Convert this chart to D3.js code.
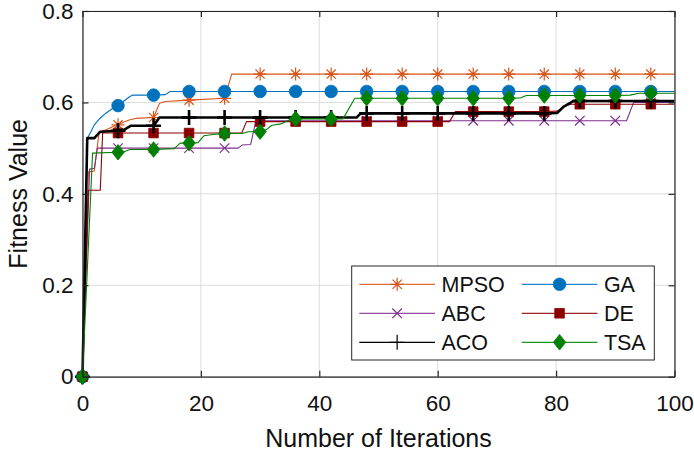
<!DOCTYPE html>
<html><head><meta charset="utf-8">
<script src="https://cdn.jsdelivr.net/npm/d3@7"></script>
<style>
html,body{margin:0;padding:0;background:#fff;}
svg{display:block;font-family:"Liberation Sans",Arial,sans-serif;}
</style></head>
<body><svg id="c" width="694" height="456"></svg>
<script>
// ---- data (iteration, fitness) vertices ----
const seriesNames = ["MPSO","GA","ABC","DE","ACO","TSA"];
const xTicks = [0,20,40,60,80,100];
const yTicks = [0,0.2,0.4,0.6,0.8];
const yTickLabels = ["0","0.2","0.4","0.6","0.8"];

const MPSO = [[0,0],[1,0.448],[2,0.45],[2.8,0.535],[4,0.54],[5,0.546],[6,0.551],[7,0.557],[8,0.562],[9,0.565],[12,0.567],[13,0.598],[14,0.602],[18,0.605],[24,0.609],[25.2,0.662],[30,0.662],[36,0.662],[42,0.662],[48,0.662],[54,0.662],[60,0.662],[66,0.662],[72,0.662],[78,0.662],[84,0.662],[90,0.662],[96,0.662],[100,0.662]];
const GA = [[0,0],[0.8,0.521],[1.5,0.538],[2,0.551],[3,0.566],[4,0.577],[5,0.586],[6,0.593],[7,0.603],[8,0.613],[8.5,0.616],[12,0.616],[14,0.617],[14.8,0.624],[18,0.624],[24,0.624],[30,0.624],[36,0.624],[42,0.624],[48,0.624],[54,0.624],[60,0.624],[66,0.624],[72,0.624],[78,0.624],[84,0.624],[90,0.624],[96,0.624],[100,0.624]];
const ABC = [[0,0],[1.2,0.454],[2,0.456],[2.5,0.5],[6,0.5],[12,0.5],[18,0.5],[24,0.5],[26.3,0.5],[27,0.507],[28.4,0.508],[29.3,0.56],[30,0.56],[36,0.56],[42,0.56],[48,0.56],[54,0.56],[60,0.56],[66,0.56],[72,0.56],[78,0.56],[84,0.56],[90,0.56],[91.9,0.56],[93.1,0.6],[96,0.6],[100,0.6]];
const DE = [[0,0],[1,0.408],[3,0.408],[3.4,0.533],[6,0.533],[12,0.533],[18,0.533],[24,0.533],[26.9,0.533],[27.7,0.558],[30,0.558],[36,0.558],[42,0.558],[48,0.558],[54,0.558],[60,0.558],[62,0.558],[63,0.58],[66,0.58],[72,0.58],[78,0.58],[80.2,0.581],[81.5,0.592],[82.5,0.596],[84,0.596],[90,0.596],[96,0.596],[100,0.596]];
const ACO = [[0,0],[0.8,0.522],[2,0.522],[3,0.536],[6,0.538],[7,0.54],[8.2,0.549],[12,0.549],[13,0.567],[18,0.567],[24,0.567],[30,0.567],[36,0.567],[42,0.567],[46.3,0.567],[47,0.576],[48,0.576],[54,0.576],[60,0.576],[66,0.576],[72,0.576],[78,0.576],[80.2,0.577],[81.3,0.591],[82.9,0.603],[84,0.603],[90,0.603],[96,0.603],[100,0.603]];
const TSA = [[0,0],[1.7,0.489],[6,0.491],[7,0.492],[8,0.497],[12,0.497],[15.5,0.499],[16.5,0.511],[18,0.511],[19.5,0.512],[20.5,0.527],[22,0.53],[24,0.532],[27,0.532],[28,0.536],[30,0.536],[31,0.54],[32,0.55],[33.5,0.553],[35,0.562],[36,0.564],[42,0.564],[44,0.564],[46,0.609],[48,0.609],[54,0.609],[60,0.609],[66,0.609],[72,0.609],[74,0.61],[75,0.615],[78,0.615],[84,0.615],[90,0.615],[92.5,0.616],[94,0.62],[96,0.62],[100,0.62]];

const seriesData = [MPSO, GA, ABC, DE, ACO, TSA];
const colors = ["#D95319","#0072BD","#7E2F8E","#8B0000","#000000","#008000"];
const markers = ["asterisk","circle","x","square","plus","diamond"];
const lineWidths = [1.1,1.1,1.1,1.1,2.6,1.1];

// ---- layout ----
const L = 82.5, R = 674.5, T = 11, B = 376.7;
const svg = d3.select("#c");
const x = d3.scaleLinear().domain([0,100]).range([L,R]);
const y = d3.scaleLinear().domain([0,0.8]).range([B,T]);
const axisColor = "#262626";
const FONT = '"Liberation Sans",Arial,sans-serif';

// grid
const grid = svg.append("g");
grid.selectAll("line.gx").data(xTicks).join("line")
  .attr("x1",d=>x(d)).attr("x2",d=>x(d)).attr("y1",T).attr("y2",B)
  .attr("stroke","#dcdcdc").attr("stroke-width",1);
grid.selectAll("line.gy").data(yTicks).join("line")
  .attr("x1",L).attr("x2",R).attr("y1",d=>y(d)).attr("y2",d=>y(d))
  .attr("stroke","#dcdcdc").attr("stroke-width",1);

// markers
function markerPath(type, cx, cy){
  switch(type){
    case "asterisk": { const a=6.5, b=4.6;
      return `M${cx-a},${cy}L${cx+a},${cy}M${cx},${cy-a}L${cx},${cy+a}M${cx-b},${cy-b}L${cx+b},${cy+b}M${cx-b},${cy+b}L${cx+b},${cy-b}`; }
    case "x": { const b=4.8;
      return `M${cx-b},${cy-b}L${cx+b},${cy+b}M${cx-b},${cy+b}L${cx+b},${cy-b}`; }
    case "plus": { const a=7.5;
      return `M${cx-a},${cy}L${cx+a},${cy}M${cx},${cy-a}L${cx},${cy+a}`; }
    case "square": { const s=4.8;
      return `M${cx-s},${cy-s}L${cx+s},${cy-s}L${cx+s},${cy+s}L${cx-s},${cy+s}Z`; }
    case "diamond": { const w=6.2, h=7.8;
      return `M${cx},${cy-h}L${cx+w},${cy}L${cx},${cy+h}L${cx-w},${cy}Z`; }
    case "circle": { const r=6.3;
      return `M${cx-r},${cy}A${r},${r} 0 1,0 ${cx+r},${cy}A${r},${r} 0 1,0 ${cx-r},${cy}Z`; }
  }
}
function filled(type){ return type==="circle"||type==="square"||type==="diamond"; }
function drawMarker(g, type, color, cx, cy, lw){
  const p = g.append("path").attr("d", markerPath(type,cx,cy));
  if(filled(type)) p.attr("fill",color).attr("stroke",color).attr("stroke-width",0.8);
  else p.attr("fill","none").attr("stroke",color).attr("stroke-width",lw);
}

const line = d3.line().x(d=>x(d[0])).y(d=>y(d[1]));
const plot = svg.append("g");
seriesData.forEach((data,i)=>{
  const g = plot.append("g");
  g.append("path").datum(data).attr("d",line).attr("fill","none")
    .attr("stroke",colors[i]).attr("stroke-width",lineWidths[i]).attr("stroke-linejoin","round");
  data.filter(d=>d[0]%6===0 && d[0]<=96).forEach(d=>{
    drawMarker(g, markers[i], colors[i], x(d[0]), y(d[1]), i===4?2.6:1.2);
  });
});

// axes (box with inward ticks on all sides)
function styleAxis(g){
  g.selectAll("path.domain").attr("stroke",axisColor).attr("stroke-width",1.2);
  g.selectAll(".tick line").attr("stroke",axisColor).attr("stroke-width",1.2);
  g.selectAll("text").attr("fill","#111").style("font-family",FONT).style("font-size","22.5px");
}
const gx = svg.append("g").attr("transform",`translate(0,${B})`)
  .call(d3.axisBottom(x).tickValues(xTicks).tickFormat(d3.format("d")).tickSizeInner(-6).tickSizeOuter(0).tickPadding(18.5));
styleAxis(gx);
const gy = svg.append("g").attr("transform",`translate(${L},0)`)
  .call(d3.axisLeft(y).tickValues(yTicks).tickFormat((d,i)=>yTickLabels[i]).tickSizeInner(-6).tickSizeOuter(0).tickPadding(9));
styleAxis(gy);
const gt = svg.append("g").attr("transform",`translate(0,${T})`)
  .call(d3.axisTop(x).tickValues(xTicks).tickFormat("").tickSizeInner(-6).tickSizeOuter(0));
styleAxis(gt);
const gr = svg.append("g").attr("transform",`translate(${R},0)`)
  .call(d3.axisRight(y).tickValues(yTicks).tickFormat("").tickSizeInner(-6).tickSizeOuter(0));
styleAxis(gr);

// axis labels
svg.append("text").attr("x",(L+R)/2).attr("y",447).attr("text-anchor","middle")
  .style("font-family",FONT).style("font-size","25px").attr("fill","#111").text("Number of Iterations");
svg.append("text").attr("transform",`translate(26.5,${(T+B)/2}) rotate(-90)`).attr("text-anchor","middle")
  .style("font-family",FONT).style("font-size","25px").attr("fill","#111").text("Fitness Value");

// legend
const lg = svg.append("g");
lg.append("rect").attr("x",351.7).attr("y",266).attr("width",302.6).attr("height",94)
  .attr("fill","#fff").attr("stroke","#262626").attr("stroke-width",1);
seriesNames.forEach((name,k)=>{
  const col = k%2, row = Math.floor(k/2);
  const ry = 284.3 + row*29;
  const lx0 = col===0 ? 359.3 : 521.7;
  const lx1 = lx0 + 75.7;
  const mx = (lx0+lx1)/2;
  lg.append("line").attr("x1",lx0).attr("x2",lx1).attr("y1",ry).attr("y2",ry)
    .attr("stroke",colors[k]).attr("stroke-width",k===4?1.2:1.3).attr("opacity",k===4?1:0.85);
  drawMarker(lg, markers[k], colors[k], mx, ry, 1.2);
  lg.append("text").attr("x",lx1+6.5).attr("y",ry).attr("dy","0.36em")
    .style("font-family",FONT).style("font-size","21.5px").attr("fill","#111").text(name);
});
</script>
</body></html>
